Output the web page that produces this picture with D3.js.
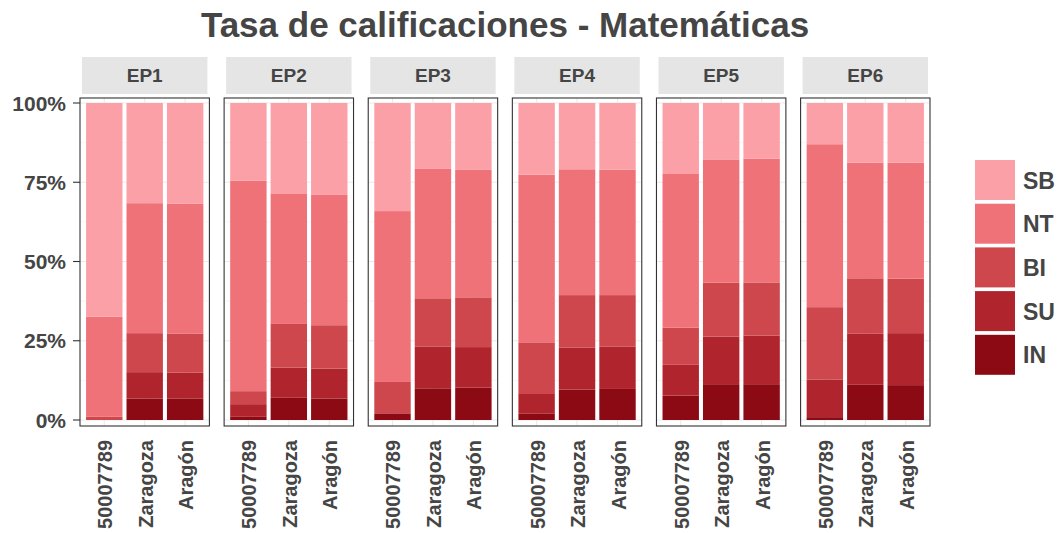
<!DOCTYPE html>
<html>
<head>
<meta charset="utf-8">
<script src="https://cdn.jsdelivr.net/npm/d3@7"></script>
<style>
  html, body { margin: 0; padding: 0; background: #fff; }
  svg { display: block; font-family: "Liberation Sans", Arial, sans-serif; }
</style>
</head>
<body>
<svg id="chart" width="1060" height="533"></svg>
<script>
// ---- data ----
const title = "Tasa de calificaciones - Matemáticas";
const panels = ["EP1", "EP2", "EP3", "EP4", "EP5", "EP6"];
const categories = ["50007789", "Zaragoza", "Aragón"];
const grades = ["IN", "SU", "BI", "NT", "SB"];
const gradeColors = ["#8C0A14", "#B0252D", "#CE474D", "#F07279", "#FBA0A7"];
// percentages, ordered panel by panel, category by category
const IN = [0.0, 6.8, 6.7,   1.0, 7.0, 6.8,   2.1, 10.0, 10.2,   2.1, 9.6, 9.8,   7.7, 11.3, 11.3,   0.9, 11.1, 11.0];
const SU = [0.0, 8.3, 8.3,   4.0, 9.5, 9.4,   0.0, 13.1, 12.8,   6.1, 13.2, 13.3,   9.7, 15.0, 15.3,   11.9, 16.1, 16.4];
const BI = [1.0, 12.3, 12.3, 4.1, 13.8, 13.7, 9.9, 15.3, 15.7,   16.3, 16.6, 16.3, 11.7, 17.0, 16.8,   22.8, 17.5, 17.2];
const NT = [31.6, 41.0, 41.0, 66.4, 41.0, 41.1, 53.9, 40.8, 40.2, 52.9, 39.7, 39.6, 48.5, 38.9, 39.0, 51.4, 36.5, 36.6];
const SB = [67.4, 31.6, 31.7, 24.5, 28.7, 29.0, 34.1, 20.8, 21.1, 22.6, 20.9, 21.0, 22.4, 17.8, 17.6, 13.0, 18.8, 18.8];
const yTicks = [0, 0.25, 0.5, 0.75, 1];
const yTickLabels = ["0%", "25%", "50%", "75%", "100%"];
const yMinor = [0.125, 0.375, 0.625, 0.875];

// ---- build rows ----
const series = { IN, SU, BI, NT, SB };
const rows = [];
panels.forEach((p, pi) => {
  categories.forEach((c, ci) => {
    const idx = pi * categories.length + ci;
    const r = { panel: p, cat: c };
    grades.forEach(g => r[g] = series[g][idx] / 100);
    rows.push(r);
  });
});
const stacked = d3.stack().keys(grades)(rows);

// ---- layout ----
const svg = d3.select("#chart");
const textColor = "#454545";
const panelTop = 98, panelBottom = 426;
const y = d3.scaleLinear().domain([0, 1]).range([420, 103]);
const px = d3.scaleBand().domain(panels).range([80, 930]).paddingInner(0.102).paddingOuter(0);
const bx = d3.scaleBand().domain(categories).range([0, px.bandwidth()]).paddingInner(0.1).paddingOuter(0.15);
const color = d3.scaleOrdinal().domain(grades).range(gradeColors);

// title
svg.append("text")
  .attr("x", 505).attr("y", 37)
  .attr("text-anchor", "middle")
  .attr("font-size", 35).attr("font-weight", "bold")
  .attr("fill", textColor)
  .text(title);

panels.forEach(p => {
  const g = svg.append("g").attr("transform", `translate(${px(p)},0)`);
  const w = px.bandwidth();

  // strip
  g.append("rect").attr("x", 2).attr("y", 57).attr("width", w - 4).attr("height", 37).attr("fill", "#e5e5e5");
  g.append("text").attr("x", w / 2).attr("y", 75.5)
    .attr("text-anchor", "middle").attr("dominant-baseline", "central")
    .attr("font-size", 19).attr("font-weight", "bold").attr("fill", textColor)
    .text(p);

  // grid
  g.selectAll(".minor").data(yMinor).join("line")
    .attr("x1", 0).attr("x2", w).attr("y1", d => y(d)).attr("y2", d => y(d))
    .attr("stroke", "#f0f0f0").attr("stroke-width", 0.6);
  g.selectAll(".major").data(yTicks).join("line")
    .attr("x1", 0).attr("x2", w).attr("y1", d => y(d)).attr("y2", d => y(d))
    .attr("stroke", "#ebebeb").attr("stroke-width", 1.1);
  g.selectAll(".vmajor").data(categories).join("line")
    .attr("x1", d => bx(d) + bx.bandwidth() / 2).attr("x2", d => bx(d) + bx.bandwidth() / 2)
    .attr("y1", panelTop).attr("y2", panelBottom)
    .attr("stroke", "#ebebeb").attr("stroke-width", 1.1);

  // bars
  stacked.forEach(layer => {
    g.selectAll(null).data(layer.filter(d => d.data.panel === p)).join("rect")
      .attr("x", d => bx(d.data.cat))
      .attr("width", bx.bandwidth())
      .attr("y", d => y(d[1]))
      .attr("height", d => Math.max(0, y(d[0]) - y(d[1])))
      .attr("fill", color(layer.key));
  });

  // border
  g.append("rect").attr("x", 0).attr("y", panelTop).attr("width", w).attr("height", panelBottom - panelTop)
    .attr("fill", "none").attr("stroke", "#333").attr("stroke-width", 1.1);

  // x labels
  g.selectAll(".xl").data(categories).join("text")
    .attr("transform", d => `translate(${bx(d) + bx.bandwidth() / 2 + 1},440) rotate(-90)`)
    .attr("text-anchor", "end").attr("dominant-baseline", "central")
    .attr("font-size", 20).attr("font-weight", "bold").attr("fill", textColor)
    .text(d => d);
});

// y axis
const ya = svg.append("g");
ya.selectAll("line").data(yTicks).join("line")
  .attr("x1", 73).attr("x2", 80).attr("y1", d => y(d)).attr("y2", d => y(d))
  .attr("stroke", "#333").attr("stroke-width", 1.1);
ya.selectAll("text").data(yTicks).join("text")
  .attr("x", 66).attr("y", d => y(d))
  .attr("text-anchor", "end").attr("dominant-baseline", "central")
  .attr("font-size", 21).attr("font-weight", "bold").attr("fill", textColor)
  .text((d, i) => yTickLabels[i]);

// legend
const legendOrder = grades.slice().reverse();
const lg = svg.append("g");
legendOrder.forEach((gname, i) => {
  const top = 160 + i * 43.7;
  lg.append("rect").attr("x", 975).attr("y", top).attr("width", 40).attr("height", 40).attr("fill", color(gname));
  lg.append("text").attr("x", 1023).attr("y", top + 20.5)
    .attr("dominant-baseline", "central")
    .attr("font-size", 23).attr("font-weight", "bold").attr("fill", textColor)
    .text(gname);
});
</script>
</body>
</html>
